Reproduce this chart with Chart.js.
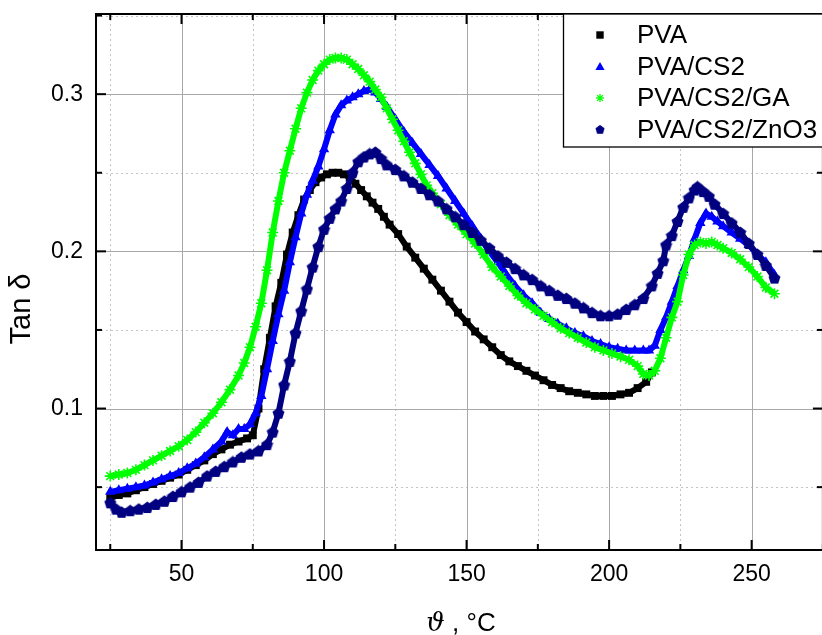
<!DOCTYPE html>
<html><head><meta charset="utf-8">
<script src="https://cdn.jsdelivr.net/npm/chart.js@4"></script>
<style>html,body{margin:0;padding:0;overflow:hidden;background:#fff}
#wrap{position:absolute;left:0;top:0;width:830px;height:635px}</style>
</head><body><div id="wrap"><canvas id="c" width="830" height="635"></canvas></div>
<script>
// ---- data ----
const seriesNames = ['PVA', 'PVA/CS2', 'PVA/CS2/GA', 'PVA/CS2/ZnO3'];

const pvaT = [25,28,31,34,37,40,43,46,49,52,55,58,61,64,67,70,73,75,77,79,81,83,85,87,89,91,93,95,97,99,101,103,105,107,109,111,113,115,117,119,121,123,126,129,132,135,138,141,144,147,150,153,156,159,162,165,168,171,174,177,180,183,186,189,192,195,198,201,204,207,210,213,215];
const pvaV = [0.043,0.045,0.046,0.048,0.050,0.052,0.054,0.056,0.058,0.061,0.064,0.067,0.071,0.074,0.077,0.079,0.081,0.083,0.100,0.125,0.145,0.165,0.180,0.198,0.212,0.223,0.233,0.239,0.244,0.247,0.249,0.250,0.250,0.249,0.247,0.243,0.239,0.235,0.231,0.227,0.222,0.217,0.211,0.203,0.196,0.189,0.182,0.175,0.168,0.161,0.155,0.149,0.144,0.139,0.134,0.130,0.127,0.124,0.121,0.118,0.115,0.113,0.111,0.110,0.109,0.108,0.108,0.108,0.109,0.110,0.113,0.117,0.123];

const cs2T = [25,28,31,34,37,40,43,46,49,52,55,58,61,64,66,68,70,72,74,76,78,80,82,84,86,88,90,92,94,96,98,100,102,104,106,108,110,112,114,116,118,120,122,125,128,131,134,137,140,143,146,149,152,155,158,161,164,167,170,173,176,179,182,185,188,191,194,197,200,203,206,209,212,214,216,218,220,222,224,226,228,230,232,234,236,238,240,243,246,249,252,255,258];
const cs2V = [0.047,0.048,0.049,0.050,0.051,0.053,0.055,0.057,0.059,0.062,0.065,0.069,0.074,0.079,0.085,0.083,0.087,0.087,0.090,0.097,0.108,0.125,0.143,0.160,0.175,0.193,0.209,0.224,0.236,0.245,0.254,0.265,0.277,0.287,0.293,0.296,0.298,0.300,0.302,0.303,0.301,0.297,0.292,0.284,0.276,0.269,0.262,0.255,0.248,0.240,0.232,0.224,0.216,0.208,0.200,0.193,0.185,0.178,0.172,0.167,0.161,0.157,0.154,0.151,0.148,0.146,0.143,0.141,0.139,0.138,0.137,0.137,0.137,0.137,0.140,0.150,0.158,0.168,0.178,0.188,0.197,0.208,0.218,0.224,0.222,0.219,0.216,0.212,0.208,0.204,0.198,0.193,0.185];

const gaT = [25,28,31,34,37,40,43,46,49,52,55,58,61,64,67,70,72,74,76,78,80,82,84,86,88,90,92,94,96,98,100,102,104,106,108,110,112,114,116,118,120,122,124,126,128,130,132,134,136,138,141,144,147,150,153,156,159,162,165,168,171,174,177,180,183,186,189,192,195,198,201,204,207,210,212,214,216,218,220,222,224,226,228,230,232,234,236,238,240,243,246,249,252,255,258];
const gaV = [0.057,0.058,0.059,0.061,0.064,0.067,0.070,0.073,0.076,0.080,0.085,0.091,0.097,0.104,0.112,0.121,0.129,0.139,0.152,0.167,0.188,0.212,0.232,0.250,0.264,0.278,0.291,0.301,0.309,0.315,0.319,0.322,0.323,0.323,0.322,0.319,0.316,0.312,0.308,0.303,0.298,0.291,0.284,0.277,0.270,0.263,0.256,0.249,0.242,0.237,0.230,0.223,0.217,0.211,0.205,0.198,0.190,0.184,0.178,0.172,0.167,0.163,0.159,0.155,0.151,0.148,0.145,0.142,0.139,0.137,0.135,0.133,0.131,0.127,0.122,0.121,0.124,0.132,0.145,0.158,0.168,0.185,0.198,0.204,0.206,0.205,0.206,0.204,0.202,0.199,0.195,0.190,0.184,0.177,0.173];

const znoT = [25,27,29,32,35,38,41,44,47,50,53,56,59,62,65,68,71,74,77,80,82,84,86,88,90,92,94,96,98,100,102,104,106,108,110,112,114,116,118,120,122,125,128,131,134,137,140,143,146,149,152,155,158,161,164,167,170,173,176,179,182,185,188,191,194,197,200,203,206,209,212,215,217,219,220,222,224,226,228,230,231,233,235,237,240,243,246,249,252,255,258];
const znoV = [0.040,0.036,0.034,0.035,0.036,0.037,0.039,0.041,0.044,0.047,0.050,0.053,0.057,0.060,0.063,0.066,0.069,0.071,0.073,0.077,0.085,0.097,0.115,0.130,0.148,0.162,0.176,0.190,0.203,0.214,0.221,0.227,0.232,0.240,0.250,0.257,0.260,0.262,0.263,0.259,0.255,0.252,0.248,0.244,0.240,0.236,0.232,0.227,0.222,0.217,0.212,0.207,0.202,0.197,0.193,0.189,0.185,0.182,0.178,0.175,0.172,0.170,0.167,0.164,0.161,0.159,0.159,0.160,0.163,0.166,0.170,0.178,0.186,0.194,0.204,0.210,0.219,0.228,0.234,0.239,0.241,0.238,0.235,0.230,0.224,0.218,0.212,0.205,0.198,0.191,0.183];

const xTickValues = [50, 100, 150, 200, 250];
const xMinorValues = [25, 75, 125, 175, 225, 275];
const yTickValues = [0.1, 0.2, 0.3];
const yMinorValues = [0.05, 0.15, 0.25, 0.35];
const xTitleSymbol = 'ϑ';
const xTitleRest = ' , °C';
const yTitle = 'Tan δ';

// ---- styles ----
const FONT = '"Liberation Sans", Arial, Helvetica, sans-serif';
function pts(t, v) { return t.map((x, i) => ({ x: x, y: v[i] })); }

const pent = document.createElement('canvas');
pent.width = 13; pent.height = 13;
(function () {
  const g = pent.getContext('2d');
  g.fillStyle = '#000080';
  g.beginPath();
  for (let k = 0; k < 5; k++) {
    const a = -Math.PI / 2 + k * 2 * Math.PI / 5;
    const px = 6.5 + 6.3 * Math.cos(a), py = 6.9 + 6.3 * Math.sin(a);
    if (k === 0) g.moveTo(px, py); else g.lineTo(px, py);
  }
  g.closePath(); g.fill();
})();

const colors = ['#000000', '#0000ff', '#00ff00', '#000080'];
const styles = ['rect', 'triangle', 'star', pent];
const dataT = [pvaT, cs2T, gaT, znoT];
const dataV = [pvaV, cs2V, gaV, znoV];
const radii = [5.6, 6, 5.5, 5.5];

const datasets = seriesNames.map((name, i) => ({
  label: name,
  data: pts(dataT[i], dataV[i]),
  showLine: true,
  borderColor: colors[i],
  backgroundColor: colors[i],
  borderWidth: 6,
  pointStyle: styles[i],
  pointRadius: radii[i],
  pointBorderWidth: i === 2 ? 1.6 : 0,
  pointBorderColor: colors[i],
  pointBackgroundColor: colors[i],
  order: 3 - i
}));

const framePlugin = {
  id: 'frame',
  beforeDatasetsDraw(chart) {
    const { ctx, chartArea: a, scales: { x, y } } = chart;
    ctx.save();
    ctx.lineWidth = 1;
    ctx.strokeStyle = '#c4c4c4';
    ctx.setLineDash([2, 3]);
    xMinorValues.forEach(v => { const p = Math.round(x.getPixelForValue(v)) + 0.5; ctx.beginPath(); ctx.moveTo(p, a.top); ctx.lineTo(p, a.bottom); ctx.stroke(); });
    yMinorValues.forEach(v => { const p = Math.round(y.getPixelForValue(v)) + 0.5; if (p < a.top) return; ctx.beginPath(); ctx.moveTo(a.left, p); ctx.lineTo(a.right, p); ctx.stroke(); });
    ctx.setLineDash([]);
    ctx.strokeStyle = '#a8a8a8';
    xTickValues.forEach(v => { const p = Math.round(x.getPixelForValue(v)) + 0.5; ctx.beginPath(); ctx.moveTo(p, a.top); ctx.lineTo(p, a.bottom); ctx.stroke(); });
    yTickValues.forEach(v => { const p = Math.round(y.getPixelForValue(v)) + 0.5; ctx.beginPath(); ctx.moveTo(a.left, p); ctx.lineTo(a.right, p); ctx.stroke(); });
    ctx.restore();
  },
  afterDatasetsDraw(chart) {
    const { ctx, chartArea: a, scales: { x, y } } = chart;
    ctx.save();
    ctx.strokeStyle = '#000';
    ctx.lineWidth = 2;
    ctx.strokeRect(a.left, a.top, a.right - a.left, a.bottom - a.top);
    const tick = (vals, len) => {
      vals.forEach(v => {
        const p = x.getPixelForValue(v);
        ctx.beginPath(); ctx.moveTo(p, a.bottom); ctx.lineTo(p, a.bottom - len); ctx.stroke();
        ctx.beginPath(); ctx.moveTo(p, a.top); ctx.lineTo(p, a.top + len); ctx.stroke();
      });
    };
    const ytick = (vals, len) => {
      vals.forEach(v => {
        const p = y.getPixelForValue(v);
        if (p < a.top) return;
        ctx.beginPath(); ctx.moveTo(a.left, p); ctx.lineTo(a.left + len, p); ctx.stroke();
        ctx.beginPath(); ctx.moveTo(a.right, p); ctx.lineTo(a.right - len, p); ctx.stroke();
      });
    };
    tick(xTickValues, 10); tick(xMinorValues, 6);
    ytick(yTickValues, 10); ytick(yMinorValues, 6);
    ctx.restore();
  },
  afterDraw(chart) {
    const { ctx } = chart;
    ctx.save();
    // legend
    const lx = 563.5, ly = 14, lw = 300, lh = 133;
    ctx.fillStyle = '#fff';
    ctx.fillRect(lx, ly, lw, lh);
    ctx.strokeStyle = '#000'; ctx.lineWidth = 1.3;
    ctx.strokeRect(lx, ly, lw, lh);
    ctx.font = '26px ' + FONT;
    ctx.textBaseline = 'middle';
    ctx.textAlign = 'left';
    chart.data.datasets.forEach((ds, i) => {
      const cy = 35 + i * 31.5, cx = 600;
      ctx.fillStyle = colors[i]; ctx.strokeStyle = colors[i];
      if (i === 0) { ctx.fillRect(cx - 3.7, cy - 3.7, 7.4, 7.4); }
      else if (i === 1) { ctx.beginPath(); ctx.moveTo(cx, cy - 4.6); ctx.lineTo(cx + 4.6, cy + 3.6); ctx.lineTo(cx - 4.6, cy + 3.6); ctx.closePath(); ctx.fill(); }
      else if (i === 2) {
        ctx.lineWidth = 1.3;
        for (let k = 0; k < 4; k++) { const ang = k * Math.PI / 4; ctx.beginPath(); ctx.moveTo(cx - 4 * Math.cos(ang), cy - 4 * Math.sin(ang)); ctx.lineTo(cx + 4 * Math.cos(ang), cy + 4 * Math.sin(ang)); ctx.stroke(); }
      } else { ctx.drawImage(pent, cx - 5, cy - 5, 10, 10); }
      ctx.fillStyle = '#000';
      ctx.fillText(ds.label, 637, cy + 1);
    });
    // axis titles
    ctx.fillStyle = '#000';
    ctx.save();
    ctx.translate(22, 309);
    ctx.rotate(-Math.PI / 2);
    ctx.textAlign = 'center'; ctx.textBaseline = 'middle';
    ctx.font = '29px ' + FONT;
    ctx.fillText(yTitle, 0, 0);
    ctx.restore();
    ctx.textBaseline = 'alphabetic'; ctx.textAlign = 'left';
    const f1 = 'italic 26px "DejaVu Serif", serif', f2 = '26px ' + FONT;
    ctx.font = f1; const w1 = ctx.measureText(xTitleSymbol).width;
    ctx.font = f2; const w2 = ctx.measureText(xTitleRest).width;
    const sx = 461 - (w1 + w2) / 2, by = 631;
    ctx.font = f1; ctx.fillText(xTitleSymbol, sx, by);
    ctx.font = f2; ctx.fillText(xTitleRest, sx + w1, by);
    ctx.restore();
  }
};

function noPad(s) { s.paddingTop = 0; s.paddingBottom = 0; s.paddingLeft = 0; s.paddingRight = 0; }

new Chart(document.getElementById('c'), {
  type: 'scatter',
  data: { datasets: datasets },
  options: {
    responsive: false,
    animation: false,
    devicePixelRatio: 1,
    layout: { padding: { left: 0, top: 14, right: 4, bottom: 0 } },
    plugins: { legend: { display: false }, tooltip: { enabled: false } },
    scales: {
      x: {
        type: 'linear', min: 20, max: 275,
        grid: { display: false, drawTicks: false }, border: { display: false },
        ticks: { color: '#000', font: { size: 23, family: FONT }, padding: 11, maxRotation: 0,
                 callback: v => String(v) },
        afterBuildTicks: s => { s.ticks = xTickValues.map(v => ({ value: v })); },
        afterFit: s => { s.height = 85; noPad(s); }
      },
      y: {
        type: 'linear', min: 0.01, max: 0.351,
        grid: { display: false, drawTicks: false }, border: { display: false },
        ticks: { color: '#000', font: { size: 23, family: FONT }, padding: 13,
                 callback: v => String(v) },
        afterBuildTicks: s => { s.ticks = yTickValues.map(v => ({ value: v })); },
        afterFit: s => { s.width = 96; noPad(s); }
      }
    }
  },
  plugins: [framePlugin]
});
</script></body></html>
